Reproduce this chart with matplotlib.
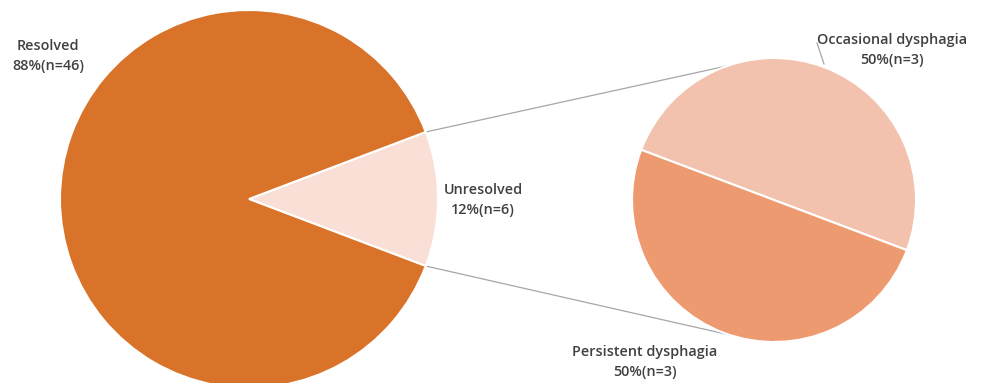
import matplotlib
matplotlib.use("Agg")
import matplotlib.pyplot as plt
import numpy as np

# Data
main_labels = ["Unresolved", "Resolved"]
main_counts = [6, 46]
main_pct = ["12%", "88%"]
sub_labels = ["Occasional dysphagia", "Persistent dysphagia"]
sub_counts = [3, 3]
sub_pct = ["50%", "50%"]

main_colors = ["#F9DFD6", "#DA732A"]
sub_colors = ["#F3C2AE", "#EE9A70"]

W, H = 982, 383
fig = plt.figure(figsize=(W / 100, H / 100), dpi=100)
ax = fig.add_axes([0, 0, 1, 1])

def py(y):
    return H - y

# main pie
c1 = (249, py(199)); r1 = 189
half = main_counts[0] / sum(main_counts) * 360 / 2
ax.pie(main_counts, colors=main_colors, center=c1, radius=r1, startangle=-half,
       counterclock=True, wedgeprops=dict(edgecolor="white", linewidth=1.5),
       frame=True)

# sub pie
c2 = (774, py(200)); r2 = 142
tilt = 20.7
ax.pie(sub_counts, colors=sub_colors, center=c2, radius=r2, startangle=-tilt,
       counterclock=True, wedgeprops=dict(edgecolor="white", linewidth=1.5),
       frame=True)
ax.set_xlim(0, W)
ax.set_ylim(0, H)
ax.set_aspect("equal")
ax.axis("off")

# connector lines
def pt(c, r, a):
    return c[0] + r * np.cos(np.radians(a)), c[1] + r * np.sin(np.radians(a))

for a1, a2 in [(half, 109), (-half, -108)]:
    p1 = pt(c1, r1, a1); p2 = pt(c2, r2, a2)
    ax.plot([p1[0], p2[0]], [p1[1], p2[1]], color="#A6A6A6", lw=0.9, zorder=0)

# leader line for occasional label
ax.plot([824, 817], [py(64), py(43)], color="#A6A6A6", lw=0.9)

fkw = dict(fontsize=10.4, color="#404040", fontweight="semibold", family=["Open Sans", "DejaVu Sans"],
           ha="center", va="center", linespacing=1.5)
n_main = dict(zip(main_labels, main_counts))
pct_main = dict(zip(main_labels, main_pct))
ax.text(48, py(56), f"Resolved\n{pct_main['Resolved']}(n={n_main['Resolved']})", **fkw)
ax.text(483, py(200), f"Unresolved\n{pct_main['Unresolved']}(n={n_main['Unresolved']})", **fkw)
ax.text(892, py(50), f"{sub_labels[0]}\n{sub_pct[0]}(n={sub_counts[0]})", **fkw)
ax.text(645, py(362), f"{sub_labels[1]}\n{sub_pct[1]}(n={sub_counts[1]})", **fkw)

fig.savefig("out.png", dpi=100)
